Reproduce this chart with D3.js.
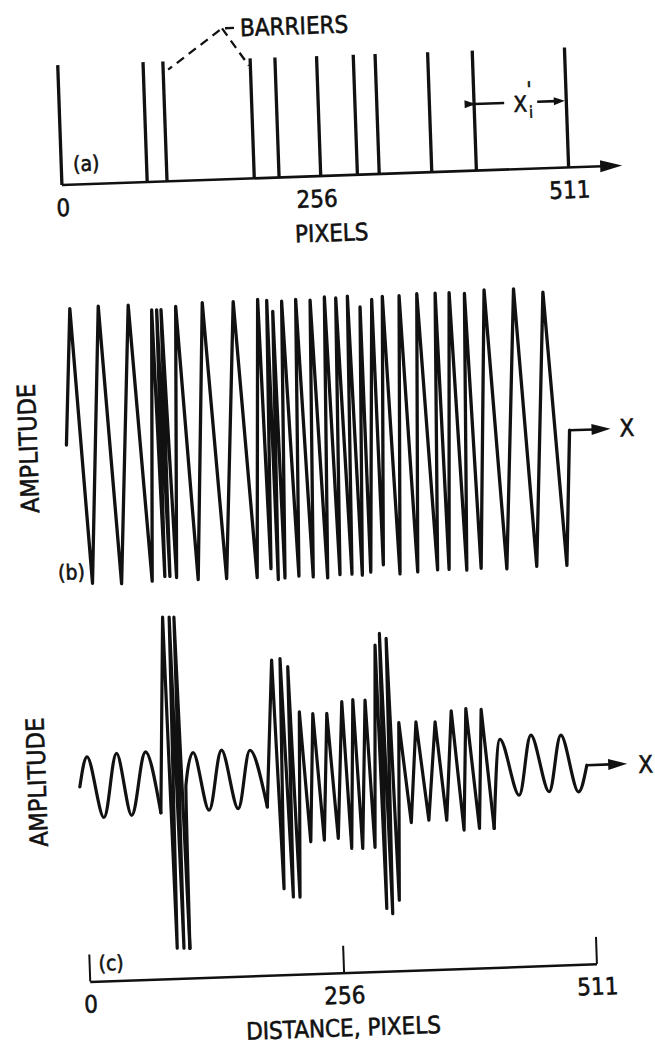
<!DOCTYPE html>
<html>
<head>
<meta charset="utf-8">
<script src="https://cdn.jsdelivr.net/npm/d3@7"></script>
<style>
  body { margin: 0; background: #fff; }
  svg { display: block; background: #fff; }
  text { font-family: "DejaVu Sans Condensed", "DejaVu Sans", sans-serif; font-stretch: condensed; fill: #111; stroke: #111; stroke-width: 0.55px; }
</style>
</head>
<body>
<svg width="655" height="1053"></svg>
<script>
// (a) barrier positions along the row, pixels
const barriers = [0, 86, 106, 194, 219, 261, 298, 320, 373, 418, 511];
const pixelTicks = [0, 256, 511];

// (b) sawtooth turning points: [pixel, amplitude]
const bPoints = [
  [-4.6, 0.0], [3.6, 0.98], [16.8, -1.0], [32.3, 0.99], [46.1, -1.01],
  [62.5, 0.99], [77.0, -1.0], [86.0, 0.95], [89.9, -0.97], [91.0, 0.95],
  [95.0, -0.97], [95.4, 0.95], [101.7, -0.98], [110.3, 0.97], [123.4, -1.0],
  [137.2, 0.99], [152.1, -1.0], [168.4, 0.99], [182.9, -1.0], [193.1, 1.0],
  [197.1, -0.94], [202.2, 0.99], [204.1, -1.02], [207.9, 0.91], [210.9, -1.01],
  [217.2, 0.98], [225.0, -1.0], [231.4, 0.99], [239.4, -1.01], [245.9, 0.98],
  [253.9, -1.02], [260.4, 1.0], [266.4, -1.0], [271.8, 0.99], [278.5, -1.0],
  [283.6, 1.0], [288.9, -1.01], [296.0, 0.92], [297.5, -0.99], [308.0, 0.97],
  [310.4, -0.94], [318.8, 0.99], [326.9, -1.01], [335.7, 0.99], [344.8, -1.0],
  [353.6, 1.0], [364.9, -0.99], [372.1, 1.0], [376.5, -0.99], [386.2, 1.0],
  [394.3, -1.0], [401.6, 0.99], [408.8, -0.99], [421.5, 1.01], [434.7, -1.0],
  [451.2, 1.01], [464.9, -0.99], [480.7, 0.98], [495.3, -0.99], [502.7, -0.02]
];

// (c) filtered signal: smooth waves between sharp bursts, [pixel, amplitude]
const cWaveA = [[-3.1, -0.1], [5.2, 0.89], [20.0, -1.15], [35.1, 0.97], [48.0, -1.11], [64.3, 0.99], [77.6, -1.06]];
const cBurst1 = [[86.2, 5.46], [89.3, -5.59], [92.8, 5.45], [96.1, -5.6], [97.6, 5.44], [102.1, -5.61]];
const cWaveB = [[103.8, -0.17], [112.2, 0.91], [126.2, -1.03], [140.9, 0.96], [155.6, -1.01], [169.5, 0.92], [185.0, -0.99]];
const cBurst2 = [
  [194.5, 3.9], [199.0, -3.73], [203.0, 3.94], [208.1, -4.02], [210.5, 3.66], [214.8, -4.03],
  [220.6, 2.14], [227.6, -2.2], [234.1, 2.07], [241.3, -2.16], [248.2, 2.06], [255.4, -2.12],
  [263.7, 2.43], [268.6, -2.47], [274.9, 2.49], [279.7, -2.48], [287.2, 2.46], [292.1, -2.46],
  [299.2, 4.28], [301.8, -4.51], [304.0, 4.66], [307.6, -4.69], [310.6, 4.49], [314.7, -4.25],
  [320.4, 1.67], [329.5, -1.68], [337.7, 1.67], [347.3, -1.62], [357.0, 1.65], [365.3, -1.64],
  [373.6, 2.0], [382.4, -1.99], [388.4, 2.06], [398.0, -1.95], [403.8, 2.01], [412.8, -1.97]
];
const cWaveC = [[421.7, 0.99], [439.1, -0.89], [453.0, 1.1], [469.4, -0.81], [483.2, 1.06], [499.0, -0.85], [508.3, 0.03]];

const axisArrowEnd = 565; // pixels, tip of the (a) axis arrow
const bArrowEnd = 544;
const cArrowEnd = 549;

const svg = d3.select("svg");
const width = +svg.attr("width");
const height = +svg.attr("height");
const ink = "#111";

// the original scan sits about 2 degrees off, so draw straight and turn the lot
const fig = svg.append("g").attr("transform", `rotate(-2, ${width / 2}, ${height / 2})`);

const x = d3.scaleLinear().domain([0, 511]).range([74, 581]);
const yA = d3.scaleLinear().domain([0, 1]).range([176, 56]);
const yB = d3.scaleLinear().domain([-1, 1]).range([575, 297]);
const yC = d3.scaleLinear().domain([-1, 1]).range([805, 745]);
const axisCY = 973;

function label(g, txt, u, v, size, anchor = "middle") {
  return g.append("text")
    .attr("x", u)
    .attr("y", v)
    .attr("dy", "0.36em")
    .attr("font-size", size)
    .attr("text-anchor", anchor)
    .text(txt);
}

function arrow(g, x0, x1, yy, len, half) {
  g.append("line")
    .attr("x1", x0).attr("x2", x1 - len + 2)
    .attr("y1", yy).attr("y2", yy)
    .attr("stroke", ink).attr("stroke-width", 2.6);
  g.append("path")
    .attr("d", `M${x1},${yy}L${x1 - len},${yy - half}L${x1 - len},${yy + half}Z`)
    .attr("fill", ink);
}

// ---------- (a) barriers ----------
const gA = fig.append("g");

gA.selectAll(".barrier")
  .data(barriers)
  .enter()
  .append("line")
  .attr("class", "barrier")
  .attr("x1", (d) => x(d))
  .attr("x2", (d) => x(d))
  .attr("y1", yA(0))
  .attr("y2", yA(1))
  .attr("stroke", ink)
  .attr("stroke-width", 3.3);

arrow(gA, x(0), x(axisArrowEnd), yA(0), 22, 6);

const axisA = d3.axisBottom(x).tickValues(pixelTicks).tickSize(0).tickPadding(14);
gA.append("g")
  .attr("transform", `translate(0, ${yA(0)})`)
  .call(axisA)
  .call((g) => g.select(".domain").remove())
  .selectAll("text")
  .attr("font-size", 24)
  .attr("fill", ink);

label(gA, "PIXELS", 342, 233, 24);
label(gA, "(a)", 99, 155, 21);

// dashed leaders from the label to two barriers
const apex = [x(barriers[3]) - 27, 25];
const leftEnd = [x(barriers[2]) + 5, yA(0.93)];
const rightEnd = [x(barriers[3]) - 1.5, yA(0.94)];
gA.append("path")
  .attr("d", `M${apex[0] + 12},${apex[1]}H${apex[0]}L${leftEnd[0]},${leftEnd[1]}M${apex[0]},${apex[1]}L${rightEnd[0]},${rightEnd[1]}`)
  .attr("fill", "none")
  .attr("stroke", ink)
  .attr("stroke-width", 2.3)
  .attr("stroke-dasharray", "9,6");
label(gA, "BARRIERS", apex[0] + 18, 25, 24, "start");

// spacing X'i between the last two barriers
const xiY = yA(0.555);
const xiMid = (x(barriers[9]) + x(barriers[10])) / 2;
arrow(gA, xiMid - 16, x(barriers[9]) + 1.5, xiY, 11, 4);
arrow(gA, xiMid + 17, x(barriers[10]) - 1.5, xiY, 11, 4);
label(gA, "X", xiMid, xiY + 1.5, 22);
label(gA, "'", xiMid + 9.5, xiY - 13, 21);
label(gA, "i", xiMid + 10.5, xiY + 10, 16);

// ---------- (b) sawtooth ----------
const gB = fig.append("g");
const lineB = d3.line().x((d) => x(d[0])).y((d) => yB(d[1]));

gB.append("path")
  .datum(bPoints)
  .attr("d", lineB)
  .attr("fill", "none")
  .attr("stroke", ink)
  .attr("stroke-width", 3.3)
  .attr("stroke-linejoin", "round")
  .attr("stroke-linecap", "round");

const bLast = bPoints[bPoints.length - 1];
arrow(gB, x(bLast[0]), x(bArrowEnd), yB(bLast[1]), 19, 5.5);
label(gB, "X", 630, 438, 24);
label(gB, "(b)", 70, 563, 21);
gB.append("text")
  .attr("transform", `translate(31, 438) rotate(-90)`)
  .attr("dy", "0.36em")
  .attr("text-anchor", "middle")
  .attr("font-size", 25)
  .text("AMPLITUDE");

// ---------- (c) filtered signal ----------
const gC = fig.append("g");
const smoothC = d3.line().x((d) => x(d[0])).y((d) => yC(d[1])).curve(d3.curveMonotoneX);
const sharpC = d3.line().x((d) => x(d[0])).y((d) => yC(d[1]));

const cSegments = [
  { pts: cWaveA, line: smoothC },
  { pts: cBurst1, line: sharpC },
  { pts: cWaveB, line: smoothC },
  { pts: cBurst2, line: sharpC },
  { pts: cWaveC, line: smoothC },
];

cSegments.forEach((seg, i) => {
  const pts = i === 0 ? seg.pts : [cSegments[i - 1].pts[cSegments[i - 1].pts.length - 1]].concat(seg.pts);
  gC.append("path")
    .attr("d", seg.line(pts))
    .attr("fill", "none")
    .attr("stroke", ink)
    .attr("stroke-width", 3.2)
    .attr("stroke-linejoin", "round")
    .attr("stroke-linecap", "round");
});

const cLast = cWaveC[cWaveC.length - 1];
arrow(gC, x(cLast[0]), x(cArrowEnd), yC(cLast[1]), 19, 5.5);
label(gC, "X", 637, 775, 24);
gC.append("text")
  .attr("transform", `translate(28, 772) rotate(-90)`)
  .attr("dy", "0.36em")
  .attr("text-anchor", "middle")
  .attr("font-size", 25)
  .text("AMPLITUDE");

const axisC = d3.axisBottom(x).tickValues(pixelTicks).tickSizeInner(-27).tickSizeOuter(0).tickPadding(14);
const axCG = gC.append("g")
  .attr("transform", `translate(0, ${axisCY})`)
  .call(axisC);
axCG.select(".domain").attr("stroke", ink).attr("stroke-width", 2.5);
axCG.selectAll(".tick line").attr("stroke", ink).attr("stroke-width", 2);
axCG.selectAll("text").attr("font-size", 24).attr("fill", ink);

label(gC, "(c)", 96, 955, 21);
label(gC, "DISTANCE,  PIXELS", 326, 1028, 24);
</script>
</body>
</html>
